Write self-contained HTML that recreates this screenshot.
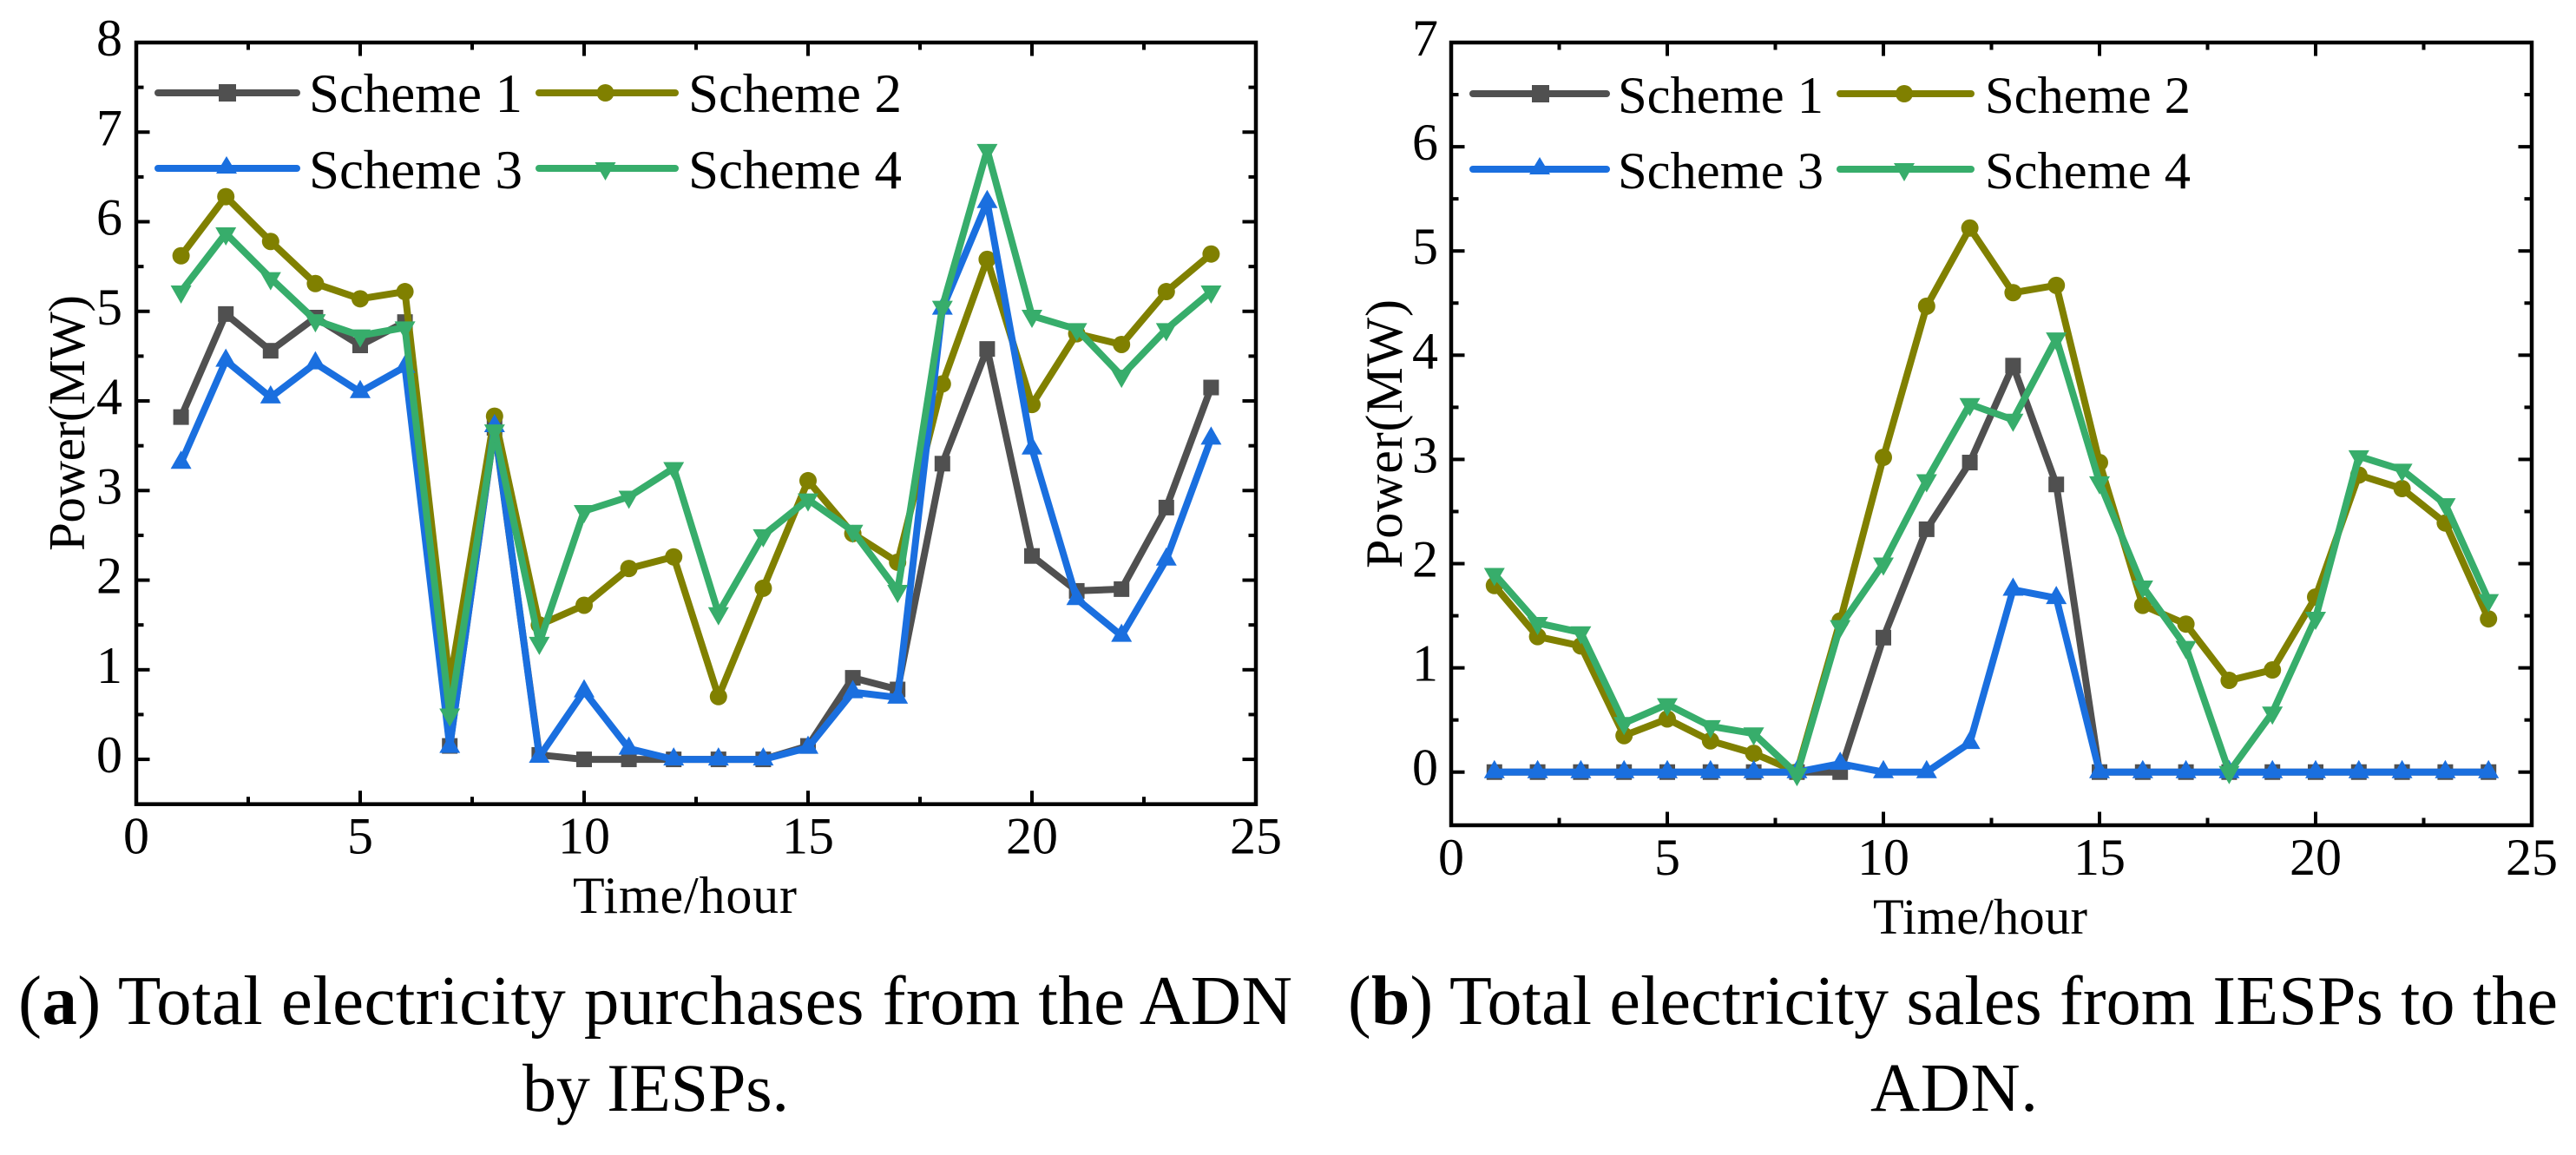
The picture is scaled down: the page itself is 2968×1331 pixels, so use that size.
<!DOCTYPE html>
<html lang="en">
<head>
<meta charset="utf-8">
<title>Electricity purchases and sales by IESPs</title>
<style>
html,body{margin:0;padding:0;background:#fff;width:2968px;height:1331px;overflow:hidden}
svg{display:block}
text{font-family:"Liberation Serif",serif;fill:#000}
</style>
</head>
<body>
<svg id="figure" xmlns="http://www.w3.org/2000/svg" width="2968" height="1331" viewBox="0 0 2968 1331">
  <rect x="0" y="0" width="2968" height="1331" fill="#ffffff"/>
  <g id="panel-a"></g>
  <g id="panel-b"></g>

  <g>
    <text x="660" y="1052" font-size="60" textLength="258" lengthAdjust="spacing">Time/hour</text>
    <text transform="translate(97,635) rotate(-90)" font-size="59" textLength="295" lengthAdjust="spacing">Power(MW)</text>
  </g>
  <g>
    <text x="2158" y="1076" font-size="58.5" textLength="247" lengthAdjust="spacing">Time/hour</text>
    <text transform="translate(1615,655) rotate(-90)" font-size="60" textLength="310" lengthAdjust="spacing">Power(MW)</text>
  </g>

  <g>
    <g>
      <line x1="182" y1="107" x2="342" y2="107" stroke="#505050" stroke-width="8" stroke-linecap="round"/>
      <rect x="252" y="97" width="20" height="20" fill="#505050"/>
      <text x="356" y="129" font-size="63" textLength="246" lengthAdjust="spacing">Scheme 1</text>
    </g>
    <g>
      <line x1="621" y1="107" x2="778" y2="107" stroke="#808000" stroke-width="8" stroke-linecap="round"/>
      <circle cx="697.5" cy="107" r="10" fill="#808000"/>
      <text x="793" y="129" font-size="63" textLength="246" lengthAdjust="spacing">Scheme 2</text>
    </g>
    <g>
      <line x1="182" y1="194" x2="342" y2="194" stroke="#1A6FDF" stroke-width="8" stroke-linecap="round"/>
      <polygon points="261,180 273,200 249,200" fill="#1A6FDF"/>
      <text x="356" y="217" font-size="63" textLength="246" lengthAdjust="spacing">Scheme 3</text>
    </g>
    <g>
      <line x1="621" y1="194" x2="778" y2="194" stroke="#37AD6B" stroke-width="8" stroke-linecap="round"/>
      <polygon points="697.5,208 709.5,187 685.5,187" fill="#37AD6B"/>
      <text x="793" y="217" font-size="63" textLength="246" lengthAdjust="spacing">Scheme 4</text>
    </g>
  </g>

  <g>
    <g>
      <line x1="1697" y1="108" x2="1851" y2="108" stroke="#505050" stroke-width="8" stroke-linecap="round"/>
      <rect x="1765" y="98" width="20" height="20" fill="#505050"/>
      <text x="1864" y="130" font-size="60.5" textLength="237" lengthAdjust="spacing">Scheme 1</text>
    </g>
    <g>
      <line x1="2120" y1="108" x2="2271" y2="108" stroke="#808000" stroke-width="8" stroke-linecap="round"/>
      <circle cx="2194" cy="108" r="10" fill="#808000"/>
      <text x="2287" y="130" font-size="60.5" textLength="237" lengthAdjust="spacing">Scheme 2</text>
    </g>
    <g>
      <line x1="1697" y1="195" x2="1851" y2="195" stroke="#1A6FDF" stroke-width="8" stroke-linecap="round"/>
      <polygon points="1774,181 1786,201 1762,201" fill="#1A6FDF"/>
      <text x="1864" y="217" font-size="60.5" textLength="237" lengthAdjust="spacing">Scheme 3</text>
    </g>
    <g>
      <line x1="2120" y1="195" x2="2271" y2="195" stroke="#37AD6B" stroke-width="8" stroke-linecap="round"/>
      <polygon points="2194,209 2206,188 2182,188" fill="#37AD6B"/>
      <text x="2287" y="217" font-size="60.5" textLength="237" lengthAdjust="spacing">Scheme 4</text>
    </g>
  </g>

  <g>
    <text x="21" y="1180" font-size="81" textLength="1468" lengthAdjust="spacing">(<tspan font-weight="700">a</tspan>) Total electricity purchases from the ADN</text>
    <text x="602" y="1280" font-size="78" textLength="307" lengthAdjust="spacing">by IESPs.</text>
    <text x="1553" y="1180" font-size="80" textLength="1394" lengthAdjust="spacing">(<tspan font-weight="700">b</tspan>) Total electricity sales from IESPs to the</text>
    <text x="2155" y="1280" font-size="79" textLength="193" lengthAdjust="spacing">ADN.</text>
  </g>
</svg>

<script>
// ---------- chart data ----------
const hours = [1,2,3,4,5,6,7,8,9,10,11,12,13,14,15,16,17,18,19,20,21,22,23,24];

const purchasesScheme1 = [3.82,4.97,4.56,4.93,4.62,4.88,0.15,3.70,0.05,0,0,0,0,0,0.15,0.91,0.78,3.30,4.58,2.27,1.88,1.90,2.81,4.15];
const purchasesScheme2 = [5.62,6.28,5.78,5.31,5.14,5.22,0.85,3.83,1.50,1.72,2.13,2.26,0.70,1.91,3.11,2.52,2.20,4.19,5.58,3.96,4.75,4.63,5.22,5.64];
const purchasesScheme3 = [3.31,4.45,4.04,4.42,4.10,4.38,0.14,3.72,0.03,0.76,0.12,0,0,0,0.13,0.75,0.69,5.03,6.22,3.47,1.79,1.38,2.23,3.58];
const purchasesScheme4 = [5.22,5.87,5.37,4.90,4.73,4.82,0.50,3.67,1.30,2.77,2.93,3.25,1.63,2.50,2.90,2.55,1.88,5.05,6.80,4.95,4.80,4.28,4.80,5.22];

const salesScheme1 = [0,0,0,0,0,0,0,0,0,1.29,2.33,2.97,3.90,2.76,0,0,0,0,0,0,0,0,0,0];
const salesScheme2 = [1.79,1.30,1.21,0.35,0.51,0.30,0.18,0,1.45,3.02,4.47,5.22,4.60,4.67,2.97,1.60,1.42,0.88,0.98,1.68,2.85,2.72,2.39,1.47];
const salesScheme3 = [0,0,0,0,0,0,0,0,0.08,0,0,0.28,1.75,1.67,0,0,0,0,0,0,0,0,0,0];
const salesScheme4 = [1.90,1.43,1.34,0.47,0.65,0.44,0.37,-0.02,1.40,2.00,2.80,3.53,3.38,4.16,2.78,1.78,1.20,0,0.57,1.48,3.03,2.90,2.57,1.65];

const xTickLabels = [0,5,10,15,20,25];
const purchasesYTickLabels = [0,1,2,3,4,5,6,7,8];
const salesYTickLabels = [0,1,2,3,4,5,6,7];

// ---------- drawing ----------
const SVG_NS = 'http://www.w3.org/2000/svg';

const panelA = {
  prefix: 'purchases', root: document.getElementById('panel-a'),
  left: 157, right: 1447, top: 49, bottom: 926.7,
  xMin: 0, xMax: 25, yMin: -0.5, yMax: 8,
  yLabelX: 126, xLabelY: 983.5, yTicks: purchasesYTickLabels,
  series: [purchasesScheme1, purchasesScheme2, purchasesScheme3, purchasesScheme4]
};
const panelB = {
  prefix: 'sales', root: document.getElementById('panel-b'),
  left: 1672, right: 2917, top: 49, bottom: 951,
  xMin: 0, xMax: 25, yMin: -0.51, yMax: 7,
  yLabelX: 1642, xLabelY: 1008, yTicks: salesYTickLabels,
  series: [salesScheme1, salesScheme2, salesScheme3, salesScheme4]
};

const schemeColors = ['#505050', '#808000', '#1A6FDF', '#37AD6B'];
const schemeMarkers = ['square', 'circle', 'up', 'down'];

function xAxis(p, v) { return p.left + (v - p.xMin) / (p.xMax - p.xMin) * (p.right - p.left); }
function yAxis(p, v) { return p.bottom - (v - p.yMin) / (p.yMax - p.yMin) * (p.bottom - p.top); }

function make(tag, parent) {
  const el = document.createElementNS(SVG_NS, tag);
  parent.appendChild(el);
  return el;
}

function tickLine(parent, x1, y1, x2, y2, name) {
  const el = make('line', parent);
  
  
  el.setAttribute('x1', x1);
  el.setAttribute('y1', y1);
  el.setAttribute('x2', x2);
  el.setAttribute('y2', y2);
  el.setAttribute('stroke', '#000');
  el.setAttribute('stroke-width', '4');
}

function label(parent, x, y, content, name) {
  const el = make('text', parent);
  
  
  el.setAttribute('x', x);
  el.setAttribute('y', y);
  el.setAttribute('font-size', '60');
  el.setAttribute('text-anchor', 'middle');
  el.textContent = content;
}

function drawMarker(parent, kind, cx, cy, color, name) {
  let el;
  if (kind === 'square') {
    el = make('rect', parent);
    el.setAttribute('x', cx - 9);
    el.setAttribute('y', cy - 9);
    el.setAttribute('width', 18);
    el.setAttribute('height', 18);
  } else if (kind === 'circle') {
    el = make('circle', parent);
    el.setAttribute('cx', cx);
    el.setAttribute('cy', cy);
    el.setAttribute('r', 10);
  } else if (kind === 'up') {
    el = make('polygon', parent);
    el.setAttribute('points', cx + ',' + (cy - 14) + ' ' + (cx + 12) + ',' + (cy + 7) + ' ' + (cx - 12) + ',' + (cy + 7));
  } else {
    el = make('polygon', parent);
    el.setAttribute('points', cx + ',' + (cy + 14) + ' ' + (cx + 12) + ',' + (cy - 7) + ' ' + (cx - 12) + ',' + (cy - 7));
  }
  el.setAttribute('fill', color);
  
  
}

function drawPanel(p) {
  // series
  p.series.forEach(function (values, s) {
    const g = make('g', p.root);
    
    
    const line = make('polyline', g);
    
    
    line.setAttribute('fill', 'none');
    line.setAttribute('stroke', schemeColors[s]);
    line.setAttribute('stroke-width', '8');
    line.setAttribute('stroke-linejoin', 'round');
    line.setAttribute('points', values.map(function (v, i) {
      return xAxis(p, hours[i]).toFixed(1) + ',' + yAxis(p, v).toFixed(1);
    }).join(' '));
    values.forEach(function (v, i) {
      drawMarker(g, schemeMarkers[s], xAxis(p, hours[i]), yAxis(p, v), schemeColors[s], p.prefix + '-point-scheme-' + (s + 1));
    });
  });

  // frame
  const frame = make('rect', p.root);
  
  
  frame.setAttribute('x', p.left);
  frame.setAttribute('y', p.top);
  frame.setAttribute('width', p.right - p.left);
  frame.setAttribute('height', p.bottom - p.top);
  frame.setAttribute('fill', 'none');
  frame.setAttribute('stroke', '#000');
  frame.setAttribute('stroke-width', '4.5');

  const ticks = make('g', p.root);
  
  
  const labels = make('g', p.root);
  
  

  const majorLen = 15.5;
  const minorLen = 8.5;

  // x ticks
  xTickLabels.forEach(function (v, i) {
    const x = xAxis(p, v);
    if (i > 0 && i < xTickLabels.length - 1) {
      tickLine(ticks, x, p.bottom, x, p.bottom - majorLen, p.prefix + '-x-tick');
      tickLine(ticks, x, p.top, x, p.top + majorLen, p.prefix + '-x-tick-top');
    }
    if (i < xTickLabels.length - 1) {
      const mx = xAxis(p, (v + xTickLabels[i + 1]) / 2);
      tickLine(ticks, mx, p.bottom, mx, p.bottom - minorLen, p.prefix + '-x-minor-tick');
      tickLine(ticks, mx, p.top, mx, p.top + minorLen, p.prefix + '-x-minor-tick-top');
    }
    label(labels, x, p.xLabelY, String(v), p.prefix + '-x-tick-label');
  });

  // y ticks
  p.yTicks.forEach(function (v, i) {
    const y = yAxis(p, v);
    if (i < p.yTicks.length - 1) {
      tickLine(ticks, p.left, y, p.left + majorLen, y, p.prefix + '-y-tick');
      tickLine(ticks, p.right, y, p.right - majorLen, y, p.prefix + '-y-tick-right');
      const my = yAxis(p, (v + p.yTicks[i + 1]) / 2);
      tickLine(ticks, p.left, my, p.left + minorLen, my, p.prefix + '-y-minor-tick');
      tickLine(ticks, p.right, my, p.right - minorLen, my, p.prefix + '-y-minor-tick-right');
    }
    label(labels, p.yLabelX, y + 15, String(v), p.prefix + '-y-tick-label');
  });
}

drawPanel(panelA);
drawPanel(panelB);
</script>
</body>
</html>
